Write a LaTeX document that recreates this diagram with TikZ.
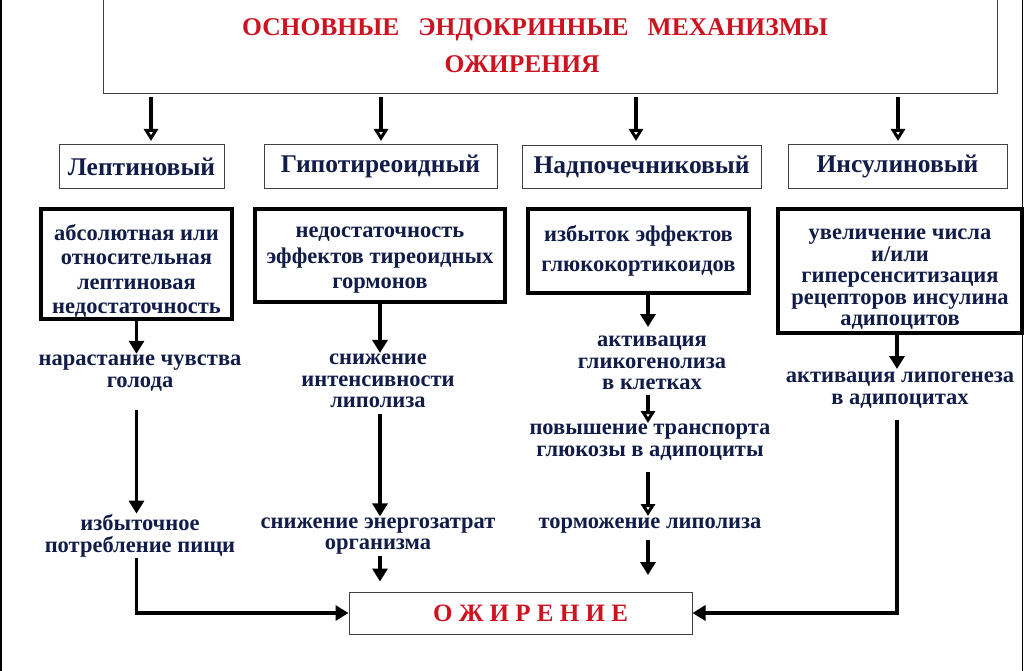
\documentclass[tikz,border=0pt]{standalone}
\usepackage{fontspec}
\setmainfont{Liberation Serif}
\usepackage{xcolor}
\usetikzlibrary{arrows.meta, positioning}
\definecolor{navy}{RGB}{18,28,72}
\definecolor{titlered}{RGB}{205,18,32}

\begin{document}
\begin{tikzpicture}[x=1pt, y=-1pt,
    frame/.style={draw=black!75, line width=1pt},
    head/.style={frame, minimum height=43pt, inner sep=0pt, text=navy,
        font=\fontsize{25.5}{28}\selectfont\bfseries},
    cause/.style={draw, line width=4pt, align=center, inner sep=0pt, text=navy,
        font=\fontsize{22.5}{#1}\selectfont\bfseries},
    cause/.default=25,
    effect/.style={align=center, inner sep=1pt, text=navy,
        font=\fontsize{22.5}{21.5}\selectfont\bfseries},
    arr/.style={line width=3.5pt, -{Triangle[length=13pt,width=15pt]}},
    oarr/.style={line width=3.5pt, -{Triangle[open,length=12pt,width=14pt]}}]
\useasboundingbox (0,0) rectangle (1024,671);

% page edges
\draw[line width=2pt] (1,0) -- (1,671);
\draw[line width=1.5pt] (1022.5,0) -- (1022.5,671);

% title box
\node[frame, minimum width=894pt, minimum height=96pt, align=center, text=titlered,
    font=\fontsize{25.5}{37}\selectfont\bfseries] (mech) at (550,46)
    {ОСНОВНЫЕ\ \ \ ЭНДОКРИННЫЕ\ \ \ МЕХАНИЗМЫ\hspace*{30pt}\\ОЖИРЕНИЯ\hspace*{56pt}};

% mechanisms
\node[head, minimum width=165pt] (lep) at (141.5,166.5) {Лептиновый};
\node[head, minimum width=233pt] (gip) at (380.5,166.5) {Гипотиреоидный};
\node[head, minimum width=239pt] (nad) at (641.5,167) {Надпочечниковый};
\node[head, minimum width=219pt] (ins) at (897.5,166.5) {Инсулиновый};

\foreach \m/\x in {lep/151, gip/381, nad/636, ins/898}
    \draw[oarr] (\x,97) -- (\x,141);

% causes
\node[cause=24.5, minimum width=191pt, minimum height=110pt] (lepc) at (136.5,264)
    {\rule{0pt}{30pt}абсолютная или\\относительная\\лептиновая\\недостаточность};
\node[cause=25.5, minimum width=250pt, minimum height=93pt] (gipc) at (380,255.5)
    {\rule{0pt}{20pt}недостаточность\\эффектов тиреоидных\\гормонов};
\node[cause=30, minimum width=221pt, minimum height=84pt] (nadc) at (638.5,251)
    {избыток эффектов\\глюкокортикоидов};
\node[cause=21.5, minimum width=244pt, minimum height=124pt] (insc) at (900,271)
    {\rule{0pt}{27pt}увеличение числа\\и/или\\гиперсенситизация\\рецепторов инсулина\\адипоцитов};

% result
\node[frame, minimum width=343pt, minimum height=42pt, text=titlered,
    font=\fontsize{25}{28}\selectfont\bfseries] (ob) at (520.5,613)
    {\hspace*{20pt}О\ Ж\ И\ Р\ Е\ Н\ И\ Е};

% leptin column
\node[effect] (lep1) at (140,373) {нарастание чувства\\голода};
\node[effect] (lep2) at (140,536) {избыточное\\потребление пищи};
\draw[arr] (lepc.south) -- (lepc.south |- lep1.north);
\draw[arr, shorten <=18pt] (lepc.south |- lep1.south) -- (lepc.south |- lep2.north);
\draw[arr] (lepc.south |- lep2.south) |- (ob.west);

% thyroid column
\node[effect] (gip1) at (378,381) {снижение\\интенсивности\\липолиза};
\node[effect] (gip2) at (378,536) {снижение энергозатрат\\организма};
\draw[arr] (gipc.south) -- (gipc.south |- gip1.north);
\draw[arr, shorten <=5pt] (gipc.south |- gip1.south) -- (gipc.south |- gip2.north);
\draw[arr, shorten >=10pt] (gipc.south |- gip2.south) -- (gipc.south |- ob.north);

% adrenal column
\coordinate (c3) at (648,0);
\node[effect] (nad1) at (652,363) {активация\\гликогенолиза\\в клетках};
\node[effect] (nad2) at (650,442) {повышение транспорта\\глюкозы в адипоциты};
\node[effect] (nad3) at (650,526) {торможение липолиза};
\draw[arr] (nadc.south -| c3) -- (648,327);
\draw[oarr] (648,395) -- (648,423);
\draw[oarr] (648,472) -- (648,516);
\draw[arr] (648,540) -- (648,575);

% insulin column
\node[effect] (ins1) at (900,390) {активация липогенеза\\в адипоцитах};
\draw[arr] (897,333) -- (897,369);
\draw[arr, shorten <=8pt] (897,412) |- (ob.east);
\end{tikzpicture}
\end{document}
